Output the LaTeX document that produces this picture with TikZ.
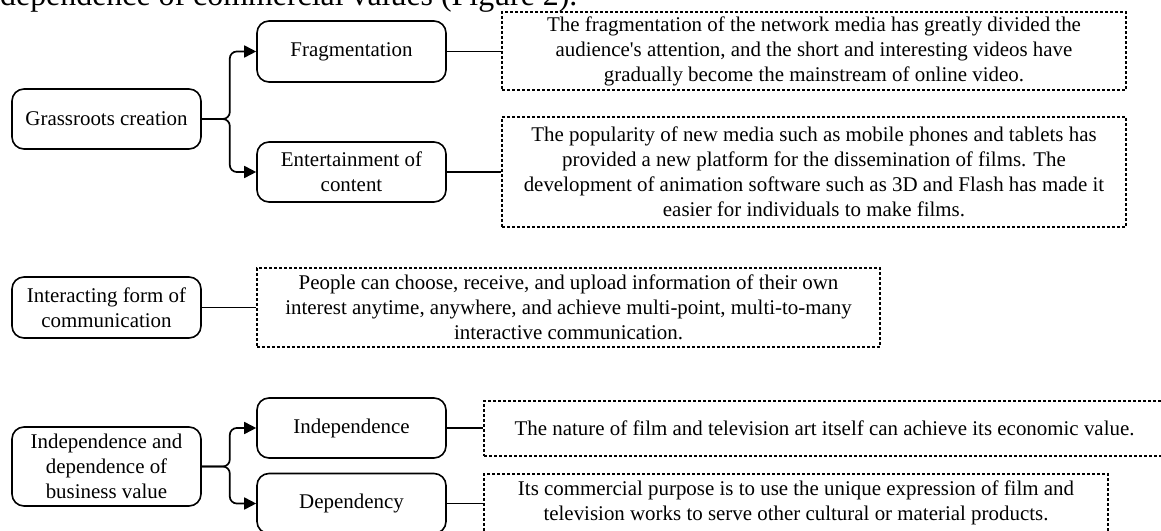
\documentclass[tikz,border=0pt]{standalone}
\usepackage{fontspec}
\setmainfont{Liberation Serif}
\newfontfamily\qfont{Liberation Serif}
\usetikzlibrary{arrows.meta}
\begin{document}
\begin{tikzpicture}[x=1bp,y=-1bp,
  solidbox/.style={draw, line width=1.6bp, rounded corners=12bp, minimum width=189bp, minimum height=60bp, align=center, inner sep=2bp, font=\fontsize{21}{25}\selectfont},
  textbox/.style={draw, line width=1.5bp, dash pattern=on 3bp off 2bp, align=center, inner sep=2bp, font=\fontsize{21}{25}\selectfont},
  link/.style={line width=1.7bp},
  branch/.style={line width=1.7bp, rounded corners=7bp, -{Triangle[length=12bp,width=12bp]}}
]
\useasboundingbox (0,0) rectangle (1161,531);
\clip (0,0) rectangle (1161,531);
\node[anchor=base west, inner sep=0pt, font=\fontsize{32}{38}\selectfont] (top) at (0,5.5) {dependence of commercial values (Figure 2).};

% left column
\node[solidbox, minimum height=60bp] (g1) at (106.5,119) {Grassroots creation};
\node[solidbox, minimum height=61bp] (g2) at (106.5,307.5) {Interacting form of\\communication};
\node[solidbox, minimum height=79bp] (g3) at (106.5,466.5) {Independence and\\dependence of\\business value};

% middle column
\node[solidbox, minimum height=61bp] (f) at (351.5,51.5) {Fragmentation};
\node[solidbox, minimum height=60bp] (e) at (351.5,172) {Entertainment of\\content};
\node[solidbox, minimum height=60bp] (ind) at (351.5,428) {Independence};
\node[solidbox, minimum height=60bp] (dep) at (351.5,503.5) {Dependency};

% dashed text boxes
\node[textbox, minimum width=624bp, minimum height=78bp] (d1) at (814,51) {The fragmentation of the network media has greatly divided the\\audience{\qfont'}s attention, and the short and interesting videos have\\gradually become the mainstream of online video.};
\node[textbox, minimum width=624bp, minimum height=110bp] (d2) at (814,172) {The popularity of new media such as mobile phones and tablets has\\provided a new platform for the dissemination of films. The\\development of animation software such as 3D and Flash has made it\\easier for individuals to make films.};
\node[textbox, minimum width=623bp, minimum height=79bp] (d3) at (568.5,307.5) {People can choose, receive, and upload information of their own\\interest anytime, anywhere, and achieve multi-point, multi-to-many\\interactive communication.};
\node[textbox, minimum width=681bp, minimum height=55bp] (d4) at (824.5,428.5) {The nature of film and television art itself can achieve its economic value.};
\node[textbox, minimum width=624bp, minimum height=58bp] (d5) at (796,503) {Its commercial purpose is to use the unique expression of film and\\television works to serve other cultural or material products.};

% connectors
\draw[branch] (g1.east) -- ++(28,0) |- (f.west);
\draw[branch] (g1.east) -- ++(28,0) |- (e.west);
\draw[branch] (g3.east) -- ++(28,0) |- (ind.west);
\draw[branch] (g3.east) -- ++(28,0) |- (dep.west);
\draw[link] (f.east) -- (f.east -| d1.west);
\draw[link] (e.east) -- (e.east -| d2.west);
\draw[link] (g2.east) -- (g2.east -| d3.west);
\draw[link] (ind.east) -- (ind.east -| d4.west);
\draw[link] (dep.east) -- (dep.east -| d5.west);
\end{tikzpicture}
\end{document}
